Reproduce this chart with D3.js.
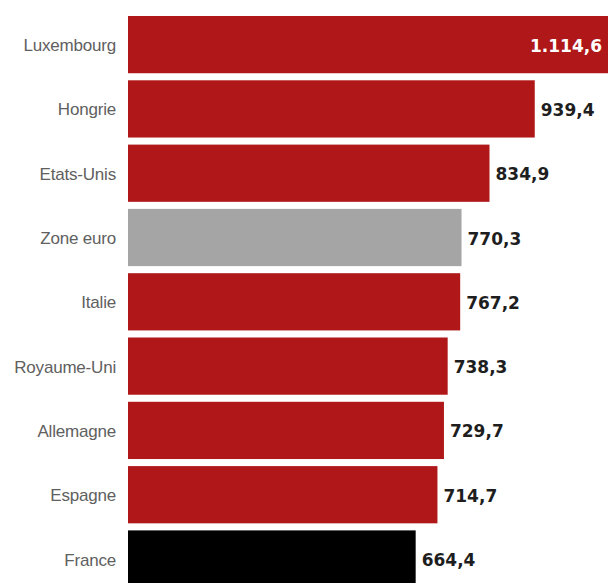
<!DOCTYPE html>
<html><head><meta charset="utf-8">
<script src="https://cdn.jsdelivr.net/npm/d3@7"></script>
<style>body{margin:0;background:#fff}svg{display:block}</style>
</head><body>
<script>
const categories = ["Luxembourg","Hongrie","Etats-Unis","Zone euro","Italie","Royaume-Uni","Allemagne","Espagne","France"];
const values = [1114.6, 939.4, 834.9, 770.3, 767.2, 738.3, 729.7, 714.7, 664.4];
const labels = ["1.114,6","939,4","834,9","770,3","767,2","738,3","729,7","714,7","664,4"];
const colors = ["#AF1718","#AF1718","#AF1718","#A5A5A5","#AF1718","#AF1718","#AF1718","#AF1718","#000000"];

const W = 608, H = 583;
const svg = d3.select("body").append("svg").attr("width", W).attr("height", H);
const x = d3.scaleLinear().domain([0, 1114.6]).range([128, 610.6]);
const pad = 0.11, step = 64.3;
const y = d3.scaleBand().domain(categories).range([16, 16 + step*(categories.length - pad)]).paddingInner(pad).paddingOuter(0);

svg.selectAll("rect.bar").data(categories).join("rect")
  .attr("x", x(0)).attr("y", d => y(d))
  .attr("width", (d,i) => x(values[i]) - x(0))
  .attr("height", y.bandwidth())
  .attr("fill", (d,i) => colors[i]);

svg.selectAll("text.cat").data(categories).join("text")
  .attr("x", 116).attr("y", d => y(d) + y.bandwidth()/2 + 1)
  .attr("text-anchor", "end").attr("dominant-baseline", "central")
  .attr("font-family", "Liberation Sans, Arial, sans-serif").attr("font-size", 17)
  .attr("letter-spacing", -0.2)
  .attr("fill", "#606060").text(d => d);

svg.selectAll("text.val").data(categories).join("text")
  .attr("x", (d,i) => i === 0 ? 602 : x(values[i]) + 6)
  .attr("y", d => y(d) + y.bandwidth()/2 + 1)
  .attr("text-anchor", (d,i) => i === 0 ? "end" : "start")
  .attr("dominant-baseline", "central")
  .attr("font-family", "DejaVu Sans, sans-serif").attr("font-weight", "bold").attr("font-size", 17)
  .attr("fill", (d,i) => i === 0 ? "#ffffff" : "#1e1e1e")
  .text((d,i) => labels[i]);
</script>
</body></html>
